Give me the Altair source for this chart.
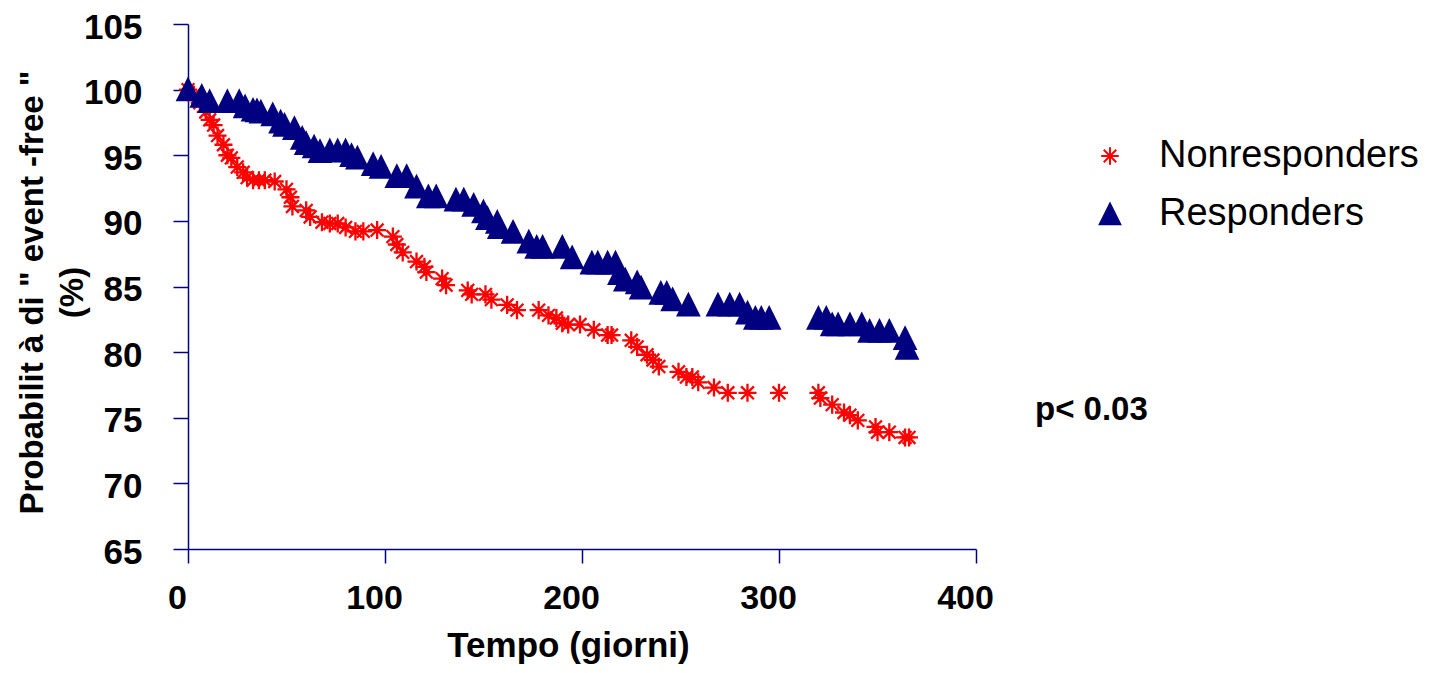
import altair as alt
import pandas as pd

# ---- data ----
nr_days = [0, 3, 6, 9, 11, 13, 15, 18, 20, 22, 25, 28, 30, 33, 36, 39, 44, 50, 52, 53,
           60, 62, 68, 72, 76, 80, 85, 89, 96, 104, 106, 109, 116, 120, 121, 129, 131, 142, 144, 151,
           154, 162, 167, 178, 183, 187, 190, 193, 199, 206, 213, 215, 225, 228, 233, 236, 239, 249, 253, 256,
           259, 267, 274, 284, 300, 320, 321, 327, 333, 336, 340, 349, 350, 356, 364, 366]
nr_vals = [100, 99.6, 99.0, 98.3, 97.7, 97.3, 96.5, 95.8, 95.0, 94.8, 94.1, 93.7, 93.3, 93.1, 93.1, 93.1, 93.0, 92.4, 91.8, 91.1,
           90.8, 90.3, 89.9, 89.8, 89.8, 89.5, 89.2, 89.2, 89.3, 88.8, 88.2, 87.6, 86.9, 86.5, 86.1, 85.6, 85.1, 84.7, 84.4, 84.4,
           84.0, 83.6, 83.2, 83.2, 82.8, 82.6, 82.2, 82.1, 82.1, 81.7, 81.3, 81.3, 80.9, 80.4, 79.8, 79.4, 78.9, 78.5, 78.1, 78.1,
           77.7, 77.3, 76.9, 76.9, 76.9, 76.9, 76.5, 76.0, 75.4, 75.2, 74.8, 74.3, 73.9, 73.9, 73.5, 73.5]

r_days = [0, 7, 11, 20, 26, 29, 33, 35, 37, 43, 47, 49, 54, 58, 60, 64, 67, 72, 76, 80,
          83, 86, 94, 98, 106, 111, 116, 122, 126, 136, 140, 145, 150, 152, 157, 158, 165, 173, 177, 180,
          190, 195, 205, 208, 213, 217, 219, 222, 228, 230, 240, 243, 246, 254, 269, 275, 280, 284, 288, 291,
          295, 320, 324, 327, 330, 336, 342, 346, 351, 356, 364, 365]
r_vals = [100, 99.5, 99.1, 99.1, 99.1, 98.7, 98.45, 98.4, 98.3, 98.1, 97.55, 97.3, 97.05, 96.3, 95.9, 95.65, 95.3, 95.35, 95.35, 95.35,
          95.0, 94.8, 94.3, 94.1, 93.4, 93.4, 92.6, 91.85, 91.85, 91.6, 91.6, 91.2, 90.7, 90.2, 89.9, 89.5, 89.15, 88.4, 88.0, 88.0,
          88.0, 87.2, 86.8, 86.8, 86.8, 86.8, 86.0, 85.5, 85.3, 84.9, 84.5, 84.5, 84.0, 83.6, 83.6, 83.6, 83.6, 83.0, 82.6, 82.6,
          82.6, 82.6, 82.6, 82.1, 82.1, 82.1, 82.1, 81.6, 81.6, 81.6, 81.05, 80.3]

series = ["Nonresponders", "Responders"]
series_colors = ["#FF0000", "#000080"]
x_ticks = [0, 100, 200, 300, 400]
y_ticks = [65, 70, 75, 80, 85, 90, 95, 100, 105]
x_title = "Tempo (giorni)"
y_title = ['Probabilit à di " event -free "', "(%)"]
p_label = ["p< 0.03"]

FONT = "Liberation Sans"
NAVY = "#000080"
STAR = "M-0.86,0L0.86,0M0,-0.86L0,0.86M-0.61,-0.61L0.61,0.61M-0.61,0.61L0.61,-0.61"
TRI = "M0,-1L1,1L-1,1Z"

df = pd.DataFrame({
    "giorni": nr_days + r_days,
    "prob": nr_vals + r_vals,
    "gruppo": [series[0]] * len(nr_days) + [series[1]] * len(r_days),
})

legend_kw = dict(title=None, orient="none", legendX=903, legendY=113,
                 labelFont=FONT, labelFontSize=38, labelColor="black", labelLimit=0,
                 symbolSize=420, symbolStrokeWidth=2, labelOffset=30,
                 rowPadding=20, padding=0)

points = alt.Chart(df).mark_point(size=441, strokeWidth=2.3, opacity=1, filled=True).encode(
    x=alt.X("giorni:Q",
            scale=alt.Scale(domain=[0, 400], nice=False, zero=False),
            axis=alt.Axis(values=x_ticks, format="d", title=x_title, grid=False,
                          titleFont=FONT, titleFontSize=35, titleFontWeight="bold", titleColor="black",
                          titleX=380, titleY=107, titleBaseline="alphabetic", titleAlign="center",
                          labelFont=FONT, labelFontSize=34, labelFontWeight="bold", labelColor="black",
                          labelPadding=18, labelOffset=-11, labelFlush=False, labelOverlap=False,
                          tickSize=14, tickColor=NAVY, tickWidth=1.5,
                          domainColor=NAVY, domainWidth=1.5)),
    y=alt.Y("prob:Q",
            scale=alt.Scale(domain=[65, 105], nice=False, zero=False),
            axis=alt.Axis(values=y_ticks, format="d", title=y_title, grid=False,
                          titleFont=FONT, titleFontSize=33, titleFontWeight="bold", titleColor="black",
                          titleAngle=270, titleX=-146, titleY=268, titleAlign="center",
                          titleBaseline="alphabetic", titleLineHeight=40,
                          labelFont=FONT, labelFontSize=35, labelFontWeight="bold", labelColor="black",
                          labelPadding=31, labelOffset=3, labelFlush=False, labelOverlap=False,
                          tickSize=15, tickColor=NAVY, tickWidth=1.5,
                          domainColor=NAVY, domainWidth=1.5)),
    fill=alt.Fill("gruppo:N", scale=alt.Scale(domain=series, range=series_colors),
                  legend=alt.Legend(**legend_kw)),
    stroke=alt.Stroke("gruppo:N", scale=alt.Scale(domain=series, range=series_colors),
                      legend=alt.Legend(**legend_kw)),
    shape=alt.Shape("gruppo:N", scale=alt.Scale(domain=series, range=[STAR, TRI]),
                    legend=alt.Legend(**legend_kw)),
)

ann = alt.Chart(pd.DataFrame({"t": p_label})).mark_text(
    align="left", baseline="alphabetic", font=FONT, fontSize=33, fontWeight="bold", color="black"
).encode(text="t:N", x=alt.value(847), y=alt.value(396))

chart = alt.layer(points, ann).properties(
    width=788, height=525,
    padding={"left": 180, "top": 16, "right": 453, "bottom": 116},
    autosize=alt.AutoSizeParams(type="none"),
).configure(font=FONT).configure_view(stroke=None)

chart.save("out.html", embed_options={"renderer": "svg", "actions": False})
